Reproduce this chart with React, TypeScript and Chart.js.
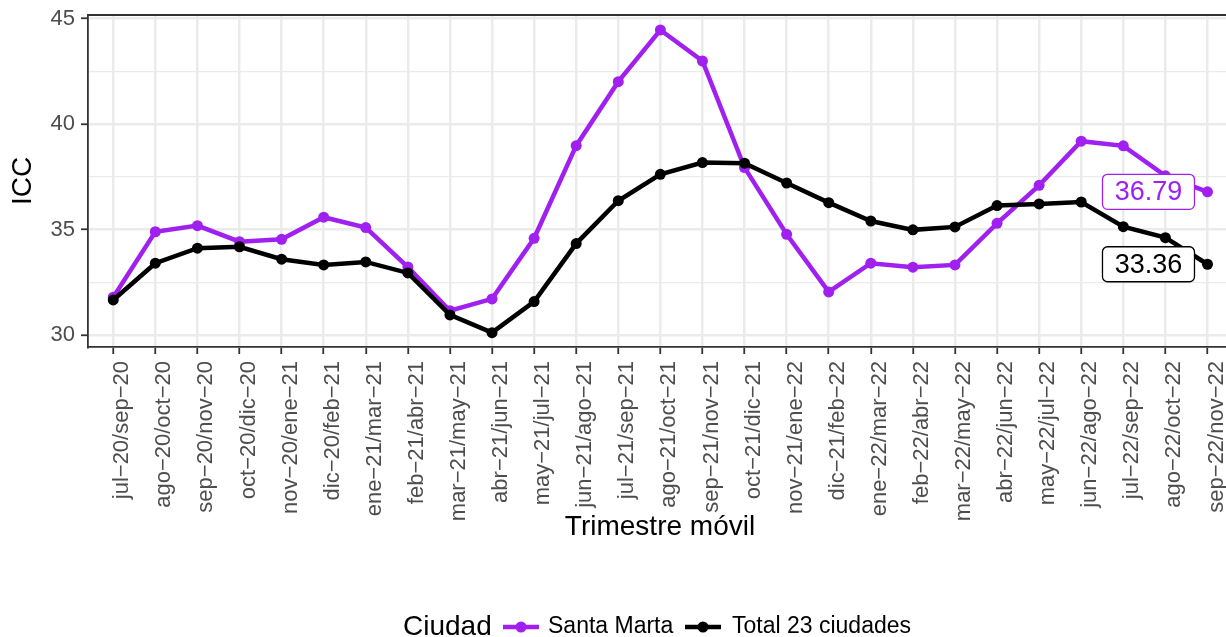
import { useEffect, useRef } from "react";
import { Chart, registerables } from "chart.js";

Chart.register(...registerables);

const periods = [
  "jul−20/sep−20", "ago−20/oct−20", "sep−20/nov−20", "oct−20/dic−20", "nov−20/ene−21",
  "dic−20/feb−21", "ene−21/mar−21", "feb−21/abr−21", "mar−21/may−21", "abr−21/jun−21",
  "may−21/jul−21", "jun−21/ago−21", "jul−21/sep−21", "ago−21/oct−21", "sep−21/nov−21",
  "oct−21/dic−21", "nov−21/ene−22", "dic−21/feb−22", "ene−22/mar−22", "feb−22/abr−22",
  "mar−22/may−22", "abr−22/jun−22", "may−22/jul−22", "jun−22/ago−22", "jul−22/sep−22",
  "ago−22/oct−22", "sep−22/nov−22",
];

const santaMarta = [
  31.8, 34.9, 35.19, 34.43, 34.54, 35.59, 35.1, 33.23, 31.16, 31.72,
  34.59, 38.98, 42.01, 44.46, 42.99, 37.94, 34.78, 32.05, 33.41, 33.22,
  33.33, 35.3, 37.1, 39.19, 38.97, 37.55, 36.79,
];

const total23 = [
  31.67, 33.41, 34.12, 34.19, 33.6, 33.33, 33.47, 32.95, 30.96, 30.12,
  31.59, 34.34, 36.37, 37.62, 38.18, 38.15, 37.21, 36.28, 35.41, 34.99,
  35.13, 36.14, 36.22, 36.31, 35.14, 34.62, 33.36,
];

const yMajorTicks = [30, 35, 40, 45];
const yMinorTicks = [32.5, 37.5, 42.5];
const seriesNames = ["Santa Marta", "Total 23 ciudades"];
const seriesColors = ["#A020F0", "#000000"];
const legendTitle = "Ciudad";
const xTitle = "Trimestre móvil";
const yTitle = "ICC";

const FONT = "'Liberation Sans', Arial, Helvetica, sans-serif";

export default function App() {
  const ref = useRef<HTMLCanvasElement | null>(null);

  useEffect(() => {
    const canvas = ref.current;
    if (!canvas) return;

    const overlay = {
      id: "overlay",
      beforeDatasetsDraw(chart: any) {
        const ctx = chart.ctx;
        const a = chart.chartArea;
        ctx.save();
        ctx.strokeStyle = "#333333";
        ctx.lineWidth = 1.8;
        ctx.beginPath();
        ctx.moveTo(a.left, a.top);
        ctx.lineTo(a.right + 2, a.top);
        ctx.stroke();
        ctx.restore();
      },
      afterDraw(chart: any) {
        const ctx = chart.ctx;
        const a = chart.chartArea;
        const xs = chart.scales.x;
        const ys = chart.scales.y;
        ctx.save();
        // end labels
        const series = [santaMarta, total23];
        series.forEach((vals, i) => {
          const last = vals.length - 1;
          const px = xs.getPixelForValue(last) - 59;
          const py = ys.getPixelForValue(vals[last]);
          const w = 92, h = 35, r = 5;
          const x0 = px - w / 2, y0 = py - h / 2;
          ctx.beginPath();
          ctx.moveTo(x0 + r, y0);
          ctx.lineTo(x0 + w - r, y0);
          ctx.arcTo(x0 + w, y0, x0 + w, y0 + r, r);
          ctx.lineTo(x0 + w, y0 + h - r);
          ctx.arcTo(x0 + w, y0 + h, x0 + w - r, y0 + h, r);
          ctx.lineTo(x0 + r, y0 + h);
          ctx.arcTo(x0, y0 + h, x0, y0 + h - r, r);
          ctx.lineTo(x0, y0 + r);
          ctx.arcTo(x0, y0, x0 + r, y0, r);
          ctx.closePath();
          ctx.fillStyle = "#ffffff";
          ctx.fill();
          ctx.strokeStyle = seriesColors[i];
          ctx.lineWidth = 1.3;
          ctx.stroke();
          ctx.fillStyle = seriesColors[i];
          ctx.font = `27px ${FONT}`;
          ctx.textAlign = "center";
          ctx.textBaseline = "middle";
          ctx.fillText(vals[last].toFixed(2), px, py + 1);
        });

        // axis titles
        ctx.fillStyle = "#000000";
        ctx.font = `28px ${FONT}`;
        ctx.textAlign = "center";
        ctx.textBaseline = "middle";
        ctx.fillText(xTitle, 660, 527);
        ctx.save();
        ctx.translate(23, (a.top + a.bottom) / 2);
        ctx.rotate(-Math.PI / 2);
        ctx.fillText(yTitle, 0, 0);
        ctx.restore();

        // legend
        const ly = 627;
        ctx.textAlign = "left";
        ctx.font = `28px ${FONT}`;
        ctx.fillStyle = "#000000";
        ctx.fillText(legendTitle, 403, ly);
        const keys = [
          { x0: 503, x1: 539, tx: 548 },
          { x0: 685, x1: 721, tx: 732 },
        ];
        keys.forEach((k, i) => {
          ctx.strokeStyle = seriesColors[i];
          ctx.lineWidth = 4.5;
          ctx.beginPath();
          ctx.moveTo(k.x0, ly);
          ctx.lineTo(k.x1, ly);
          ctx.stroke();
          ctx.fillStyle = seriesColors[i];
          ctx.beginPath();
          ctx.arc((k.x0 + k.x1) / 2, ly, 5.5, 0, Math.PI * 2);
          ctx.fill();
          ctx.fillStyle = "#000000";
          ctx.font = `23px ${FONT}`;
          ctx.fillText(seriesNames[i], k.tx, ly);
        });
        ctx.restore();
      },
    };

    const isMajor = (v: number) => yMajorTicks.includes(v);

    const chart = new Chart(canvas, {
      type: "line",
      data: {
        datasets: [santaMarta, total23].map((vals, i) => ({
          label: seriesNames[i],
          data: vals.map((v, j) => ({ x: j, y: v })),
          borderColor: seriesColors[i],
          backgroundColor: seriesColors[i],
          pointBackgroundColor: seriesColors[i],
          pointBorderWidth: 0,
          borderWidth: 4.5,
          pointRadius: 5.5,
          tension: 0,
          order: i === 0 ? 1 : 0,
        })),
      },
      options: {
        animation: false,
        responsive: false,
        layout: { autoPadding: false, padding: { top: 15, left: 0, right: 0, bottom: 0 } },
        plugins: { legend: { display: false }, tooltip: { enabled: false } },
        scales: {
          x: {
            type: "linear",
            min: -0.6,
            max: 26.44,
            afterFit(scale: any) {
              scale.height = 290;
              scale.paddingLeft = 0;
              scale.paddingRight = 0;
            },
            afterBuildTicks(scale: any) {
              scale.ticks = periods.map((_, i) => ({ value: i }));
            },
            grid: {
              color: "#EBEBEB",
              lineWidth: 2.5,
              tickLength: 7,
              tickColor: "#333333",
              tickWidth: 1.8,
            },
            border: { display: true, color: "#333333", width: 1.8 },
            ticks: {
              autoSkip: false,
              maxRotation: 90,
              minRotation: 90,
              padding: 7,
              labelOffset: 9,
              color: "#4D4D4D",
              font: { size: 22, family: FONT },
              callback: (v: any) => periods[Math.round(Number(v))] ?? "",
            },
          },
          y: {
            type: "linear",
            min: 29.44,
            max: 45.17,
            afterFit(scale: any) {
              scale.width = 88;
              scale.paddingTop = 0;
              scale.paddingBottom = 0;
            },
            afterBuildTicks(scale: any) {
              scale.ticks = [...yMajorTicks, ...yMinorTicks]
                .sort((a, b) => a - b)
                .map((v) => ({ value: v }));
            },
            grid: {
              color: "#EBEBEB",
              lineWidth: (c: any) => (isMajor(c.tick?.value) ? 2.5 : 1.3),
              tickLength: 7,
              tickColor: (c: any) => (isMajor(c.tick?.value) ? "#333333" : "rgba(0,0,0,0)"),
              tickWidth: 1.8,
            },
            border: { display: true, color: "#333333", width: 1.8 },
            ticks: {
              padding: 6,
              color: "#4D4D4D",
              font: { size: 22, family: FONT },
              callback: (v: any) => (isMajor(Number(v)) ? String(v) : ""),
            },
          },
        },
      },
      plugins: [overlay],
    } as any);

    return () => chart.destroy();
  }, []);

  return (
    <div style={{ position: "fixed", left: 0, top: 0, width: 1226, height: 637, background: "#fff" }}>
      <canvas ref={ref} width={1226} height={637} style={{ display: "block" }} />
    </div>
  );
}
